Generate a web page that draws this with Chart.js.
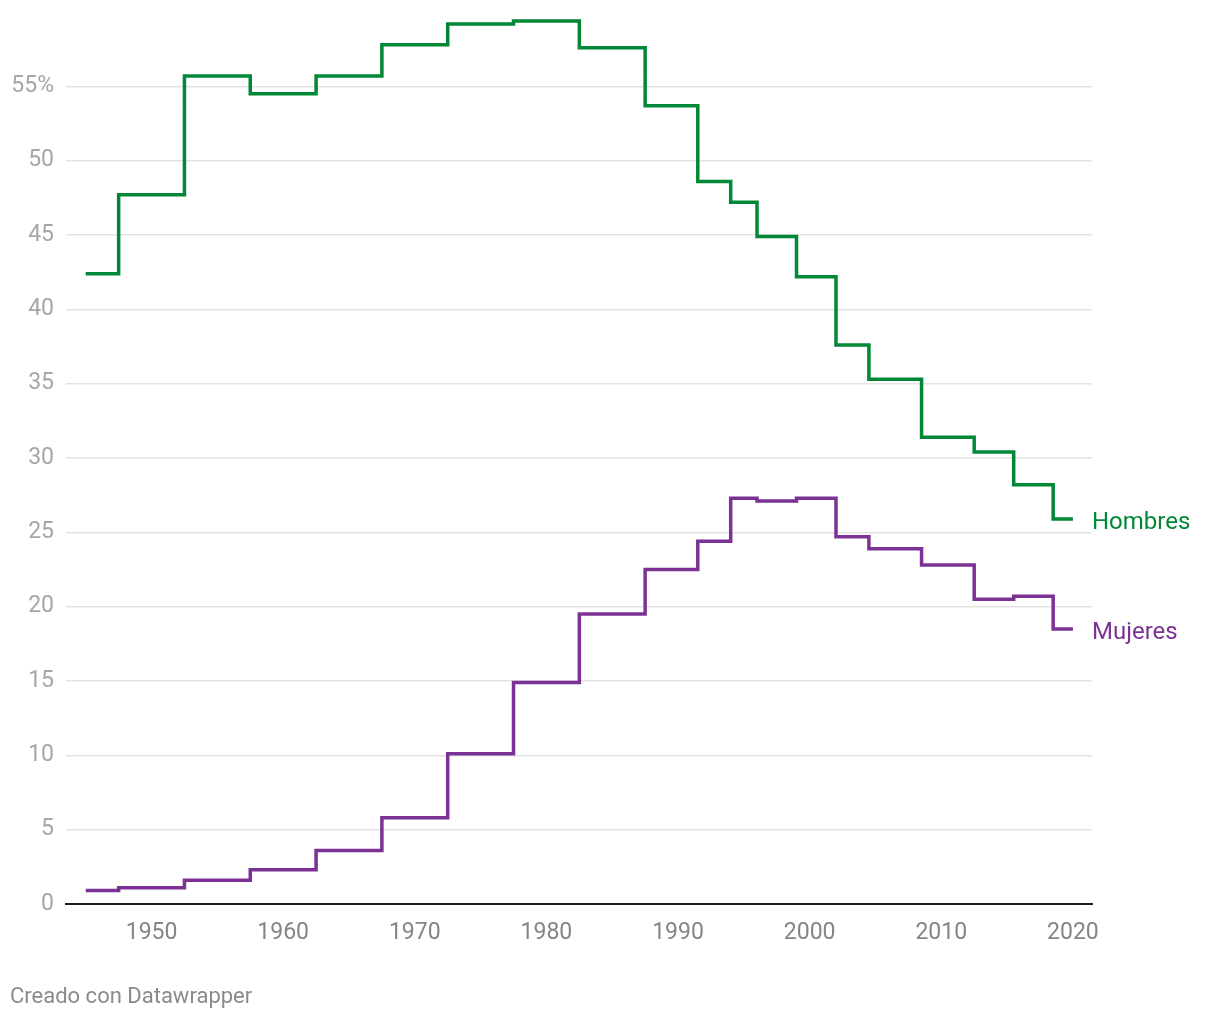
<!DOCTYPE html>
<html>
<head>
<meta charset="utf-8">
<script src="https://cdn.jsdelivr.net/npm/chart.js@4"></script>
<style>
  html, body { margin: 0; padding: 0; background: #fff; }
  #wrap { position: relative; width: 1220px; height: 1020px; }
</style>
</head>
<body>
<div id="wrap"><canvas id="chart" width="1220" height="1020"></canvas></div>
<script>
var years = [1945, 1950, 1955, 1960, 1965, 1970, 1975, 1980, 1985, 1990, 1993, 1995, 1997, 2001, 2003, 2006, 2011, 2014, 2017, 2020];
var hombres = [42.4, 47.7, 55.7, 54.5, 55.7, 57.8, 59.2, 59.4, 57.6, 53.7, 48.6, 47.2, 44.9, 42.2, 37.6, 35.3, 31.4, 30.4, 28.2, 25.9];
var mujeres = [0.9, 1.1, 1.6, 2.3, 3.6, 5.8, 10.1, 14.9, 19.5, 22.5, 24.4, 27.3, 27.1, 27.3, 24.7, 23.9, 22.8, 20.5, 20.7, 18.5];
var xTicks = [1950, 1960, 1970, 1980, 1990, 2000, 2010, 2020];
var yTicks = [0, 5, 10, 15, 20, 25, 30, 35, 40, 45, 50, 55];

var green = "#008837";
var purple = "#7b3294";

function toPoints(vals) {
  var pts = [];
  for (var i = 0; i < years.length; i++) pts.push({ x: years[i], y: vals[i] });
  return pts;
}

// names at the end of each line + footer
var endLabels = {
  id: "endLabels",
  afterDatasetsDraw: function(chart) {
    var ctx = chart.ctx;
    var ys = chart.scales.y;
    ctx.save();
    ctx.font = "24px Roboto";
    ctx.textBaseline = "middle";
    ctx.textAlign = "left";
    chart.data.datasets.forEach(function(ds) {
      var last = ds.data[ds.data.length - 1];
      ctx.fillStyle = ds.borderColor;
      ctx.fillText(ds.label, chart.chartArea.right, ys.getPixelForValue(last.y) + 4);
    });
    ctx.fillStyle = "#8a8a8a";
    ctx.font = "22px Roboto";
    ctx.fillText("Creado con Datawrapper", 10, 997);
    ctx.restore();
  }
};

var ctx = document.getElementById("chart").getContext("2d");
new Chart(ctx, {
  type: "line",
  data: {
    datasets: [{
      label: "Hombres",
      data: toPoints(hombres),
      borderColor: green,
      borderWidth: 3.5,
      pointRadius: 0,
      stepped: "middle",
      fill: false
    }, {
      label: "Mujeres",
      data: toPoints(mujeres),
      borderColor: purple,
      borderWidth: 3.5,
      pointRadius: 0,
      stepped: "middle",
      fill: false
    }]
  },
  options: {
    responsive: false,
    animation: false,
    events: [],
    layout: { padding: { top: 12, right: 128, bottom: 66, left: 0 } },
    plugins: { legend: { display: false }, tooltip: { enabled: false } },
    scales: {
      x: {
        type: "linear",
        min: 1943.5,
        max: 2021.45,
        afterBuildTicks: function(scale) {
          scale.ticks = xTicks.map(function(v) { return { value: v }; });
        },
        afterFit: function(scale) { scale.height = 50; },
        grid: { display: false, drawTicks: false },
        border: { display: true, color: "#1d1d1d", width: 2 },
        ticks: {
          color: "#858585",
          font: { family: "Roboto", size: 23 },
          padding: 15,
          maxRotation: 0,
          callback: function(v) { return String(v); }
        }
      },
      y: {
        min: 0,
        max: 60,
        afterBuildTicks: function(scale) {
          scale.ticks = yTicks.map(function(v) { return { value: v }; });
        },
        afterFit: function(scale) {
          scale.width = 66;
          scale.paddingTop = 0;
          scale.paddingBottom = 0;
        },
        grid: {
          drawTicks: false,
          color: function(c) { return c.tick && c.tick.value === 0 ? "rgba(0,0,0,0)" : "#e3e3e3"; },
          lineWidth: 1.5
        },
        border: { display: false },
        ticks: {
          color: "#a6a6a6",
          font: { family: "Roboto", size: 23 },
          padding: 12,
          callback: function(v) { return v === 55 ? "55%" : String(v); }
        }
      }
    }
  },
  plugins: [endLabels]
});
</script>
</body>
</html>
